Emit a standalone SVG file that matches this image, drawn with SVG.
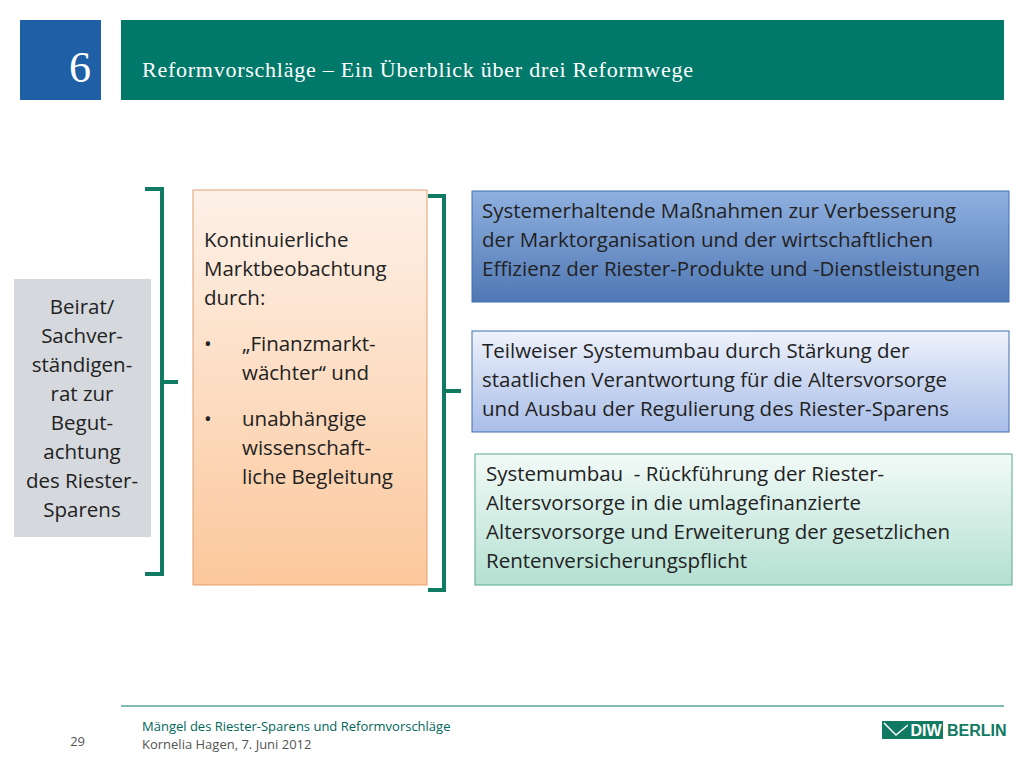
<svg xmlns="http://www.w3.org/2000/svg" width="1024" height="768" viewBox="0 0 1024 768">
<defs>
<linearGradient id="gOr" x1="0" y1="0" x2="0" y2="1"><stop offset="0" stop-color="#fdf1e8"/><stop offset="1" stop-color="#fcc89c"/></linearGradient>
<linearGradient id="gB1" x1="0" y1="0" x2="0" y2="1"><stop offset="0" stop-color="#8fb0e0"/><stop offset="1" stop-color="#5078b4"/></linearGradient>
<linearGradient id="gB2" x1="0" y1="0" x2="0" y2="1"><stop offset="0" stop-color="#eef2fb"/><stop offset="1" stop-color="#a8bde8"/></linearGradient>
<linearGradient id="gG" x1="0" y1="0" x2="0" y2="1"><stop offset="0" stop-color="#f2faf7"/><stop offset="1" stop-color="#b4e0d2"/></linearGradient>
</defs>
<style>
.t{font-family:"Open Sans","Liberation Sans",sans-serif;font-size:20.5px;fill:#222}
.br{fill:none;stroke:#117a62;stroke-width:4}
</style>
<rect width="1024" height="768" fill="#fff"/>
<g id="header">
<rect x="20" y="20" width="81" height="80" fill="#1f5fa6"/>
<text x="80" y="82" text-anchor="middle" font-family="Liberation Serif,serif" font-size="44" fill="#fff">6</text>
<rect x="121" y="20" width="883" height="80" fill="#00796b"/>
<text x="142" y="77" font-family="Liberation Serif,serif" font-size="22" fill="#fff" textLength="551" lengthAdjust="spacing">Reformvorschläge – Ein Überblick über drei Reformwege</text>
</g>
<g id="beirat">
<rect x="14" y="279" width="137" height="258" fill="#d5d9de"/>
<g class="t" text-anchor="middle">
<text x="82" y="314">Beirat/</text><text x="82" y="343">Sachver-</text><text x="82" y="372">ständigen-</text><text x="82" y="401">rat zur</text><text x="82" y="430">Begut-</text><text x="82" y="459">achtung</text><text x="82" y="488">des Riester-</text><text x="82" y="517">Sparens</text>
</g>
</g>
<g id="connectors">
<path class="br" d="M145 189H162V574H145M162 382H178"/>
<path class="br" d="M428 196H444V590H428M444 391H461"/>
</g>
<g id="markt">
<rect x="193" y="190" width="234" height="395" fill="url(#gOr)" stroke="#e0a070" stroke-width="1"/>
<g class="t">
<text x="204" y="247">Kontinuierliche</text><text x="204" y="276">Marktbeobachtung</text><text x="204" y="305">durch:</text>
<text x="204" y="351">•</text><text x="242" y="351">„Finanzmarkt-</text><text x="242" y="380">wächter“ und</text>
<text x="204" y="426">•</text><text x="242" y="426">unabhängige</text><text x="242" y="455">wissenschaft-</text><text x="242" y="484">liche Begleitung</text>
</g>
</g>
<g id="box1">
<rect x="472" y="191" width="537" height="111" fill="url(#gB1)" stroke="#3f6fb0"/>
<g class="t"><text x="482" y="218">Systemerhaltende Maßnahmen zur Verbesserung</text><text x="482" y="247">der Marktorganisation und der wirtschaftlichen</text><text x="482" y="276">Effizienz der Riester-Produkte und -Dienstleistungen</text></g>
</g>
<g id="box2">
<rect x="472" y="331" width="537" height="101" fill="url(#gB2)" stroke="#3f6fb0"/>
<g class="t"><text x="482" y="358">Teilweiser Systemumbau durch Stärkung der</text><text x="482" y="387">staatlichen Verantwortung für die Altersvorsorge</text><text x="482" y="416">und Ausbau der Regulierung des Riester-Sparens</text></g>
</g>
<g id="box3">
<rect x="475" y="454" width="537" height="131" fill="url(#gG)" stroke="#5aaa8a"/>
<g class="t"><text x="486" y="481" xml:space="preserve">Systemumbau  - Rückführung der Riester-</text><text x="486" y="510">Altersvorsorge in die umlagefinanzierte</text><text x="486" y="539">Altersvorsorge und Erweiterung der gesetzlichen</text><text x="486" y="568">Rentenversicherungspflicht</text></g>
</g>
<g id="footer">
<line x1="121" y1="706" x2="1004" y2="706" stroke="#00796b" stroke-width="1"/>
<g font-family="Open Sans,Liberation Sans,sans-serif" font-size="13" fill="#00665a">
<text x="142" y="731">Mängel des Riester-Sparens und Reformvorschläge</text>
<text x="142" y="749" fill="#555">Kornelia Hagen, 7. Juni 2012</text>
<text x="85" y="746" text-anchor="end" fill="#555">29</text>
</g>
<rect x="882" y="721" width="28" height="18" fill="#117a62"/>
<path d="M884 723l12 12 12-10" stroke="#fff" stroke-width="1.5" fill="none"/>
<rect x="908" y="721" width="35" height="18" fill="#117a62"/>
<text x="926" y="736" text-anchor="middle" font-family="Liberation Sans,sans-serif" font-weight="bold" font-size="16" fill="#fff">DIW</text>
<text x="947" y="736" font-family="Liberation Sans,sans-serif" font-weight="bold" font-size="16" fill="#117a62">BERLIN</text>
</g>
</svg>
